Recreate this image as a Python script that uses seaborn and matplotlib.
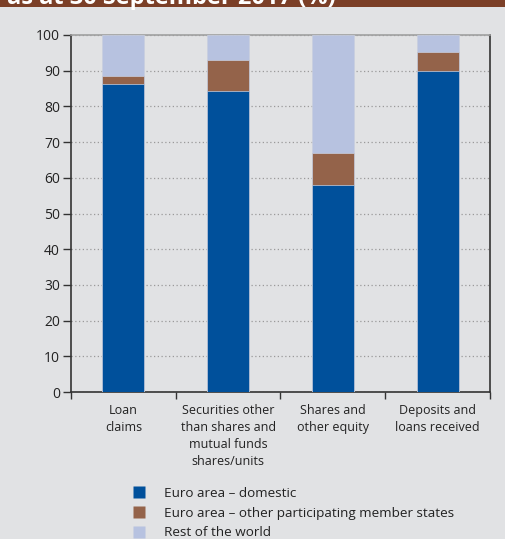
import matplotlib
matplotlib.use("Agg")
import matplotlib.pyplot as plt
import seaborn as sns
import pandas as pd
import numpy as np
from matplotlib.lines import Line2D
from matplotlib.patches import Rectangle

categories = ["Loan\nclaims",
              "Securities other\nthan shares and\nmutual funds\nshares/units",
              "Shares and\nother equity",
              "Deposits and\nloans received"]
domestic = [86.2, 84.2, 58.0, 90.0]
other_ms = [2.2, 8.9, 9.0, 5.2]
rest_world = [11.6, 6.9, 33.0, 4.8]
series_names = ["Euro area \u2013 domestic",
                "Euro area \u2013 other participating member states",
                "Rest of the world"]
colors = ["#00509b", "#94634a", "#b7c2e0"]
y_ticks = [0, 10, 20, 30, 40, 50, 60, 70, 80, 90, 100]

bg = "#e1e2e4"
sns.set_theme(style="white")
plt.rcParams["font.family"] = ["Open Sans", "DejaVu Sans"]

df = pd.DataFrame({"cat": categories,
                   "d": domestic, "o": other_ms, "r": rest_world})
df["c1"] = df["d"]
df["c2"] = df["d"] + df["o"]
df["c3"] = df["d"] + df["o"] + df["r"]

fig = plt.figure(figsize=(5.06, 5.39), dpi=100, facecolor=bg)
ax = fig.add_axes([71 / 506, 1 - 392 / 539, 419 / 506, 357 / 539])
ax.set_facecolor(bg)

# stacked bars drawn as cumulative layers, back to front
for col, color in zip(["c3", "c2", "c1"], colors[::-1]):
    sns.barplot(data=df, x="cat", y=col, color=color, width=0.4, ax=ax,
                saturation=1, edgecolor="#c9cfdf", linewidth=0.5, zorder=3)

ax.set_ylim(0, 100)
ax.set_xlim(-0.5, 3.5)
ax.set_yticks(y_ticks)
ax.set_xlabel("")
ax.set_ylabel("")
ax.yaxis.grid(True, color="#9a9a9a", linestyle=(0, (1, 2)), linewidth=0.9, zorder=0)
ax.set_axisbelow(True)

ax.tick_params(axis="y", left=True, length=6, width=1, color="#333333",
               labelsize=10, pad=2, labelcolor="#222222")
ax.set_xticks(range(4))
ax.set_xticklabels(categories, fontsize=9, color="#222222", linespacing=1.42)
ax.tick_params(axis="x", bottom=False, pad=2.5)
ax.set_xticks(np.arange(-0.5, 4.0, 1.0), minor=True)
ax.tick_params(axis="x", which="minor", bottom=True, length=5, width=1, color="#333333")

for side in ["left", "right", "bottom"]:
    ax.spines[side].set_color("#333333")
    ax.spines[side].set_linewidth(1.2)
ax.spines["top"].set_color("#a0a0a0")
ax.spines["top"].set_linewidth(1.2)

# title band
fig.patches.append(Rectangle((0, 1 - 7 / 539), 1, 7 / 539, transform=fig.transFigure,
                             facecolor="#7b3f27", edgecolor="none"))
fig.text(7 / 506, 1 - 3.5 / 539, "as at 30 September 2017 (%)", color="white",
         fontsize=17, fontweight="bold", va="baseline", ha="left")

handles = [Line2D([], [], marker="s", linestyle="none", markersize=8,
                  markerfacecolor=c, markeredgecolor="none") for c in colors]
fig.legend(handles, series_names, loc="upper left",
           bbox_to_anchor=(132 / 506, 1 - 487 / 539), frameon=False,
           fontsize=9.7, handlelength=1.0, handletextpad=1.35,
           labelspacing=0.5, borderaxespad=0, borderpad=0,
           labelcolor="#222222")

fig.savefig("out.png", dpi=100, facecolor=bg)
